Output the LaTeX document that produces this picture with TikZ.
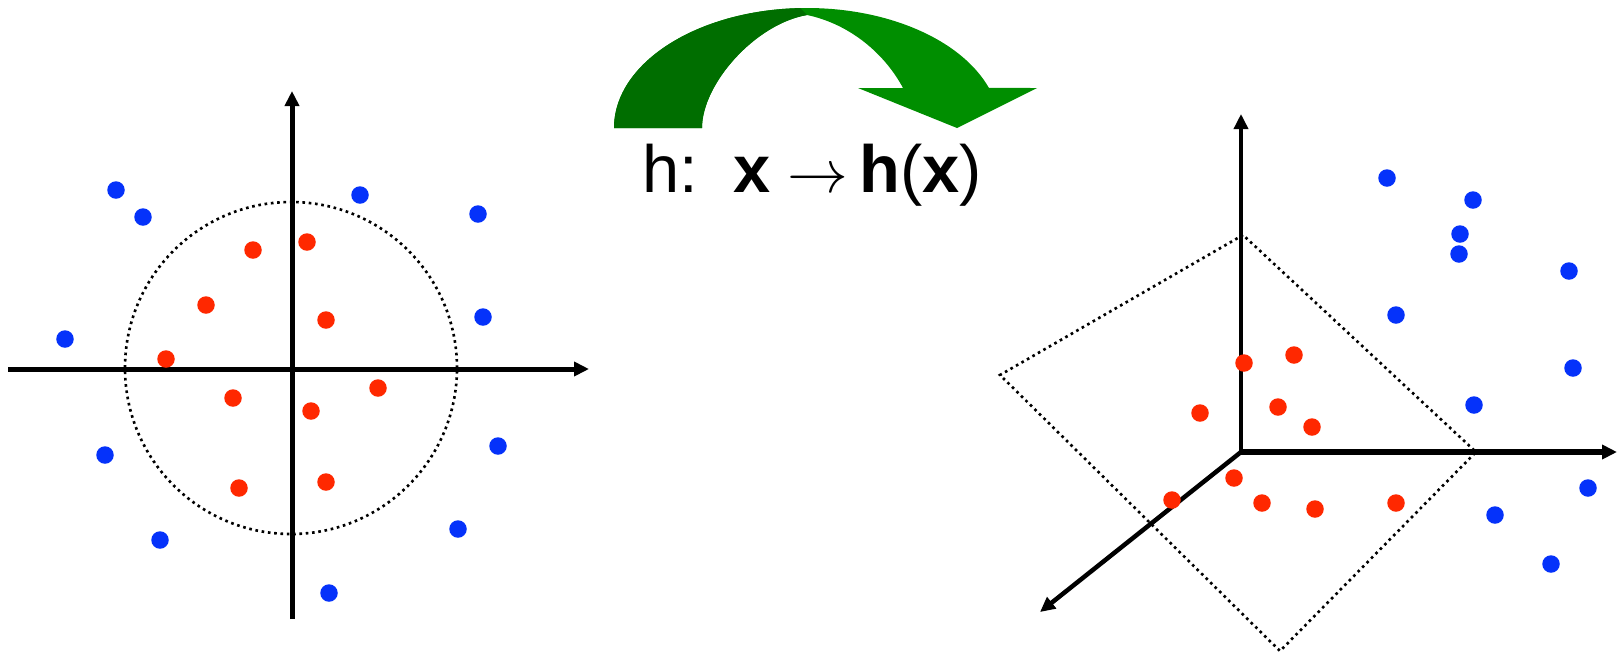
\documentclass[tikz,border=0pt]{standalone}
\usepackage{fontspec}
\setmainfont{Liberation Sans}
\usepackage{xcolor}
\usepackage{tikz}
\usetikzlibrary{arrows.meta}

\definecolor{ptred}{RGB}{255,40,0}
\definecolor{ptblue}{RGB}{5,50,250}
\definecolor{mapdark}{RGB}{0,110,0}
\definecolor{maplight}{RGB}{0,142,0}

\begin{document}
\begin{tikzpicture}[
    inner pt/.style={circle, fill=ptred, inner sep=0pt, minimum size=0.175cm},
    outer pt/.style={circle, fill=ptblue, inner sep=0pt, minimum size=0.175cm},
    ax/.style={-{Triangle[width=0.14cm, length=0.15cm]}, line width=0.05cm},
    boundary/.style={line width=0.75pt, dash pattern=on 0.75pt off 1.05pt},
    map label/.style={font=\fontsize{19}{22}\selectfont, inner sep=0pt, anchor=base}
    ]
    \useasboundingbox (0,0) rectangle (16.19,6.54);

    % input space
    \coordinate (x1w) at (0.08,2.85);
    \coordinate (x1e) at (5.89,2.85);
    \coordinate (y1s) at (2.92,0.35);
    \coordinate (y1n) at (2.92,5.63);
    \draw[ax] (x1w) -- (x1e);
    \draw[ax] (y1s) -- (y1n);
    \coordinate (c1) at (2.91,2.86);
    \draw[boundary] (c1) circle (1.66);

    \node[inner pt] (r1) at (2.53,4.04) {};
    \node[inner pt] (r2) at (3.07,4.12) {};
    \node[inner pt] (r3) at (2.06,3.49) {};
    \node[inner pt] (r4) at (3.26,3.34) {};
    \node[inner pt] (r5) at (1.66,2.95) {};
    \node[inner pt] (r6) at (2.33,2.56) {};
    \node[inner pt] (r7) at (3.78,2.66) {};
    \node[inner pt] (r8) at (3.11,2.43) {};
    \node[inner pt] (r9) at (2.39,1.66) {};
    \node[inner pt] (r10) at (3.26,1.72) {};

    \node[outer pt] (b1) at (1.16,4.64) {};
    \node[outer pt] (b2) at (1.43,4.37) {};
    \node[outer pt] (b3) at (3.60,4.59) {};
    \node[outer pt] (b4) at (4.78,4.40) {};
    \node[outer pt] (b5) at (4.83,3.37) {};
    \node[outer pt] (b6) at (0.65,3.15) {};
    \node[outer pt] (b7) at (1.05,1.99) {};
    \node[outer pt] (b8) at (4.98,2.08) {};
    \node[outer pt] (b9) at (1.60,1.14) {};
    \node[outer pt] (b10) at (4.58,1.25) {};
    \node[outer pt] (b11) at (3.29,0.61) {};

    % mapping arrow
    \fill[maplight] (6.14,5.26) arc[start angle=180, end angle=19.5, x radius=1.93, y radius=1.2]
        -- (10.37,5.66) -- (9.57,5.26) -- (8.58,5.66) -- (9.03,5.66)
        .. controls (8.85,6.0) and (8.5,6.3) .. (8.07,6.39)
        .. controls (7.55,6.30) and (7.02,5.70) .. (7.02,5.26) -- cycle;
    \fill[mapdark] (6.14,5.26) arc[start angle=180, end angle=92, x radius=1.93, y radius=1.2]
        -- (8.07,6.39)
        .. controls (7.55,6.30) and (7.02,5.70) .. (7.02,5.26) -- cycle;
    \node[map label] (hmap) at (8.12,4.62) {h:\hspace{10pt}\textbf{x}\hspace{5pt}$\rightarrow$\hspace{3pt}\textbf{h}(\textbf{x})};

    % feature space
    \coordinate (o2) at (12.41,2.02);
    \coordinate (y2n) at (12.41,5.40);
    \coordinate (x2e) at (16.17,2.02);
    \coordinate (z2s) at (10.40,0.42);
    \draw[boundary] (12.43,4.19) -- (10.00,2.79) -- (12.80,0.03) -- (14.76,2.02) -- cycle;
    \draw[ax, line width=0.035cm] (o2) -- (y2n);
    \draw[ax, line width=0.06cm] (o2) -- (x2e);
    \draw[ax, line width=0.045cm] (o2) -- (z2s);

    \node[inner pt] (hr1) at (12.44,2.91) {};
    \node[inner pt] (hr2) at (12.94,2.99) {};
    \node[inner pt] (hr3) at (12.00,2.41) {};
    \node[inner pt] (hr4) at (12.78,2.47) {};
    \node[inner pt] (hr5) at (13.12,2.27) {};
    \node[inner pt] (hr6) at (12.34,1.76) {};
    \node[inner pt] (hr7) at (11.72,1.54) {};
    \node[inner pt] (hr8) at (12.62,1.51) {};
    \node[inner pt] (hr9) at (13.15,1.45) {};
    \node[inner pt] (hr10) at (13.96,1.51) {};

    \node[outer pt] (hb1) at (13.87,4.76) {};
    \node[outer pt] (hb2) at (14.73,4.54) {};
    \node[outer pt] (hb3) at (14.60,4.20) {};
    \node[outer pt] (hb4) at (14.59,4.00) {};
    \node[outer pt] (hb5) at (15.69,3.83) {};
    \node[outer pt] (hb6) at (13.96,3.39) {};
    \node[outer pt] (hb7) at (15.73,2.86) {};
    \node[outer pt] (hb8) at (14.74,2.49) {};
    \node[outer pt] (hb9) at (15.88,1.66) {};
    \node[outer pt] (hb10) at (14.95,1.39) {};
    \node[outer pt] (hb11) at (15.51,0.90) {};
  \end{tikzpicture}
\end{document}
